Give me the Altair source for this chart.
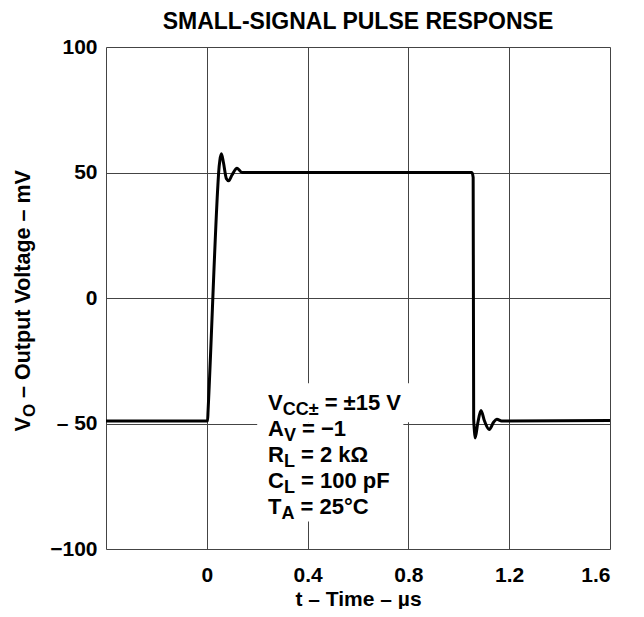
import altair as alt
import pandas as pd

# ---------------- data ----------------
t_us = [-0.4, 0.003, 0.005, 0.044, 0.047, 0.052, 0.058, 0.066, 0.078, 0.087, 0.100, 0.120, 0.140,
        1.052, 1.057, 1.059, 1.062, 1.065, 1.075, 1.088, 1.102, 1.121, 1.138, 1.151, 1.170, 1.6]
v_mv = [-49, -49, -45, 45, 50, 55, 57.5, 54, 47.5, 46.7, 49, 51.7, 50,
        50, 48, -48, -53, -55.8, -50, -44.8, -49, -52.4, -49.5, -48.3, -49, -48.8]

x_ticks = [-0.4, 0, 0.4, 0.8, 1.2, 1.6]
y_ticks = [-100, -50, 0, 50, 100]

# white background behind the condition text (data units)
box_t1 = [0.20, 0.20]
box_t2 = [0.82, 0.78]
box_v1 = [-34.0, -49.5]
box_v2 = [-49.5, -89.0]

NB = "\u00a0"
ann_lines = [
    [("V", "m"), ("CC±", "s"), (" = ±15 V", "m")],
    [("A", "m"), ("V", "s"), (" = −1", "m")],
    [("R", "m"), ("L", "s"), (" = 2 kΩ", "m")],
    [("C", "m"), ("L", "s"), (" = 100 pF", "m")],
    [("T", "m"), ("A", "s"), (" = 25°C", "m")],
]
ytitle_parts = [("V", "m"), ("O", "s"), (" – Output Voltage – mV", "m")]

FONT = "Liberation Sans, Arial, Helvetica, sans-serif"

# Arial-bold advance widths (per 1000 em) for layout of composed text
W = {'V': 667, 'C': 722, '±': 549, ' ': 278, NB: 278, '=': 584, '1': 556, '5': 556, 'A': 722,
     '−': 584, 'R': 722, 'L': 611, '2': 556, 'k': 556, 'Ω': 768, '0': 556, 'p': 611,
     'F': 611, 'T': 611, '°': 400, 'O': 778, '–': 556, 'u': 611, 't': 333, 'o': 611,
     'l': 278, 'a': 556, 'g': 611, 'e': 556, 'm': 889, 's': 556}


def tw(s, fs):
    return sum(W.get(c, 556) for c in s) / 1000.0 * fs


def split_lead(s):
    n = len(s) - len(s.lstrip(" "))
    return n, s.lstrip(" ").replace(" ", NB)


df = pd.DataFrame({"t": t_us, "v": v_mv})
box = pd.DataFrame({"t1": box_t1, "t2": box_t2, "v1": box_v1, "v2": box_v2})

xscale = alt.Scale(domain=[-0.4, 1.6], nice=False, zero=False)
yscale = alt.Scale(domain=[-100, 100], nice=False, zero=False)

common_axis = dict(grid=True, ticks=False, domain=False, gridColor="#444", gridWidth=1,
                   gridOpacity=1, labelFont=FONT, labelFontWeight="bold", labelColor="black",
                   titleFont=FONT, titleFontWeight="bold", titleColor="black")

line = alt.Chart(df).mark_line(color="black", strokeWidth=3, interpolate="monotone").encode(
    x=alt.X("t:Q", scale=xscale,
            axis=alt.Axis(values=x_ticks, format=".1~f",
                          labelExpr="datum.value < -0.3 ? '' : datum.label",
                          labelFontSize=21, labelPadding=15,
                          title="t – Time – µs", titleFontSize=21, titlePadding=3,
                          **common_axis)),
    y=alt.Y("v:Q", scale=yscale,
            axis=alt.Axis(values=y_ticks,
                          labelExpr="datum.value == -50 ? '– 50' : (datum.value == -100 ? '−100' : datum.label)",
                          labelFontSize=21, labelPadding=9, title=None,
                          **common_axis)),
)

rects = alt.Chart(box).mark_rect(color="white").encode(
    x=alt.X("t1:Q", scale=xscale), x2="t2:Q",
    y=alt.Y("v1:Q", scale=yscale), y2="v2:Q",
)

layers = [rects, line]
one = alt.Data(values=[{"a": 1}])

MAIN, SUB, SUBDY = 22, 18, 5
x0 = 162
base_y = [363, 389, 415, 441, 467]
for parts, by in zip(ann_lines, base_y):
    x = x0
    for txt, kind in parts:
        fs = MAIN if kind == "m" else SUB
        yy = by if kind == "m" else by + SUBDY
        n, clean = split_lead(txt)
        x += n * 0.278 * fs
        layers.append(alt.Chart(one).mark_text(
            text=clean, font=FONT, fontWeight="bold", fontSize=fs, align="left",
            baseline="alphabetic", color="black").encode(
            x=alt.value(x), y=alt.value(yy)))
        x += tw(clean, fs)

# rotated y-axis title composed of pieces (V with subscript O)
YT_MAIN, YT_SUB = 21.5, 17
total = sum(tw(s, YT_MAIN if k == "m" else YT_SUB) for s, k in ytitle_parts)
yy = 253 + total / 2
for txt, kind in ytitle_parts:
    fs = YT_MAIN if kind == "m" else YT_SUB
    xx = -76 if kind == "m" else -71
    n, clean = split_lead(txt)
    yy -= n * 0.278 * fs
    layers.append(alt.Chart(one).mark_text(
        text=clean, font=FONT, fontWeight="bold", fontSize=fs, align="left",
        baseline="alphabetic", angle=270, color="black").encode(
        x=alt.value(xx), y=alt.value(yy)))
    yy -= tw(clean, fs)

chart = alt.layer(*layers).properties(
    width=504, height=502,
    autosize="none",
    padding={"left": 98, "top": 39, "right": 26, "bottom": 60},
    title=alt.TitleParams("SMALL-SIGNAL PULSE RESPONSE", font=FONT, fontWeight="bold",
                          fontSize=23, color="black", anchor="middle", offset=2),
).configure_view(stroke="black", strokeWidth=2).configure(background="white")

chart.save("out.html", embed_options={"renderer": "svg", "actions": False})
